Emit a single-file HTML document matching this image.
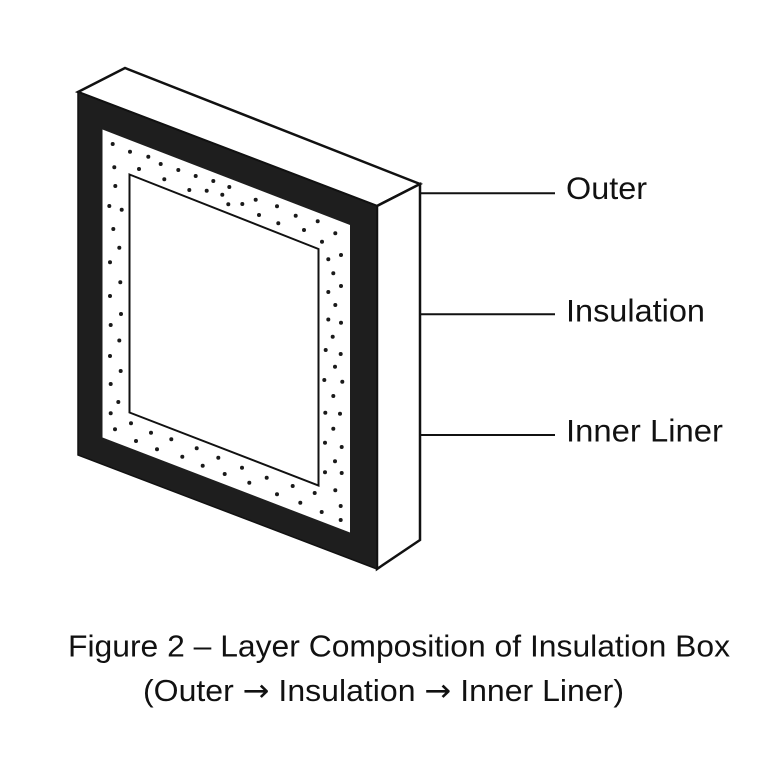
<!DOCTYPE html>
<html><head><meta charset="utf-8"><style>
html,body{margin:0;padding:0;background:#fff;}
svg{display:block;}
text{font-family:"Liberation Sans",Arial,sans-serif;fill:#111;}
</style></head><body>
<svg width="768" height="768" viewBox="0 0 768 768" xmlns="http://www.w3.org/2000/svg">
<rect width="768" height="768" fill="#fff"/>
<!-- top face -->
<polygon points="78,92 125,68 420,184 377,206" fill="#fff" stroke="#111" stroke-width="2.5" stroke-linejoin="miter"/>
<!-- side face -->
<polygon points="377,206 420,184 420,540 377,569" fill="#fff" stroke="#111" stroke-width="2.5"/>
<!-- front outer (black frame) -->
<polygon points="78,92 377,206 377,569 78,455" fill="#1e1e1e" stroke="#111" stroke-width="1.5"/>
<!-- insulation band -->
<polygon points="102.5,129.5 350,225 350,532.5 102.5,437.5" fill="#fff"/>
<!-- dots -->
<g fill="#1a1a1a">
<circle cx="112.7" cy="144" r="2"/><circle cx="130" cy="151.7" r="2"/><circle cx="148.3" cy="156.7" r="2"/>
<circle cx="160.7" cy="164" r="2"/><circle cx="178.3" cy="170" r="2"/><circle cx="195.7" cy="176" r="2"/>
<circle cx="213.3" cy="181" r="2"/><circle cx="229.3" cy="187" r="2"/><circle cx="114.3" cy="167.3" r="2"/>
<circle cx="139" cy="169" r="2"/><circle cx="164.3" cy="179.3" r="2"/><circle cx="189.3" cy="190" r="2"/>
<circle cx="206.7" cy="190.7" r="2"/><circle cx="222.3" cy="194.7" r="2"/><circle cx="228.3" cy="204.3" r="2"/>
<circle cx="242.3" cy="204" r="2"/><circle cx="255.7" cy="199.7" r="2"/><circle cx="259" cy="215" r="2"/>
<circle cx="277" cy="206.3" r="2"/><circle cx="278.3" cy="223.3" r="2"/><circle cx="295.7" cy="215.7" r="2"/>
<circle cx="304" cy="230" r="2"/><circle cx="317.7" cy="221.3" r="2"/><circle cx="335.3" cy="233.3" r="2"/>
<circle cx="322" cy="241.7" r="2"/><circle cx="341" cy="255" r="2"/><circle cx="328.3" cy="259.3" r="2"/>
<circle cx="333.3" cy="273.3" r="2"/><circle cx="341" cy="286" r="2"/><circle cx="328.3" cy="292" r="2"/>
<circle cx="335.3" cy="305" r="2"/><circle cx="328.3" cy="319.5" r="2"/><circle cx="341" cy="322.7" r="2"/>
<circle cx="332.7" cy="336.8" r="2"/>
<circle cx="115.3" cy="186" r="2"/><circle cx="109.3" cy="206" r="2"/><circle cx="121.7" cy="209.7" r="2"/>
<circle cx="113.3" cy="229" r="2"/><circle cx="119.3" cy="247.7" r="2"/><circle cx="110" cy="262.3" r="2"/>
<circle cx="120.3" cy="282.3" r="2"/><circle cx="110" cy="296" r="2"/><circle cx="121" cy="314" r="2"/>
<circle cx="110.7" cy="325" r="2"/><circle cx="119.3" cy="340.5" r="2"/>
<circle cx="110" cy="356" r="2"/><circle cx="120.7" cy="371" r="2"/><circle cx="110.7" cy="384" r="2"/>
<circle cx="118.3" cy="402" r="2"/><circle cx="110.7" cy="413.3" r="2"/><circle cx="115" cy="429.3" r="2"/>
<circle cx="131" cy="423.3" r="2"/>
<circle cx="136" cy="441" r="2"/><circle cx="151" cy="432.7" r="2"/><circle cx="157" cy="449.3" r="2"/>
<circle cx="171.3" cy="439.3" r="2"/><circle cx="182.3" cy="456.7" r="2"/><circle cx="196.7" cy="448.3" r="2"/>
<circle cx="202.7" cy="465.7" r="2"/><circle cx="218.3" cy="457.7" r="2"/><circle cx="224.7" cy="474" r="2"/>
<circle cx="242" cy="467.7" r="2"/><circle cx="249.3" cy="482.7" r="2"/><circle cx="266.7" cy="477.7" r="2"/>
<circle cx="277" cy="494.3" r="2"/><circle cx="292.7" cy="486" r="2"/><circle cx="300.3" cy="502.7" r="2"/>
<circle cx="314.7" cy="493" r="2"/><circle cx="321.7" cy="512" r="2"/><circle cx="335.3" cy="490.3" r="2"/>
<circle cx="340.7" cy="506" r="2"/><circle cx="340.7" cy="520" r="2"/>
<circle cx="325.7" cy="350" r="2"/><circle cx="340.7" cy="354" r="2"/><circle cx="335" cy="366.7" r="2"/>
<circle cx="324.3" cy="380" r="2"/><circle cx="342.3" cy="381.7" r="2"/><circle cx="333.3" cy="396" r="2"/>
<circle cx="325.3" cy="412.7" r="2"/><circle cx="340" cy="413.7" r="2"/><circle cx="333.3" cy="428.7" r="2"/>
<circle cx="325" cy="442.7" r="2"/><circle cx="341.7" cy="447" r="2"/><circle cx="335" cy="461.3" r="2"/>
<circle cx="325" cy="472.3" r="2"/><circle cx="341.7" cy="473" r="2"/>
</g>
<!-- inner liner -->
<polygon points="129.5,174.5 318.5,249 318.5,485.5 129.5,412.5" fill="#fff" stroke="#111" stroke-width="2"/>
<!-- leader lines -->
<g stroke="#111" stroke-width="2">
<line x1="420" y1="193.3" x2="555" y2="193.3"/>
<line x1="420" y1="314.3" x2="555" y2="314.3"/>
<line x1="420" y1="435" x2="555" y2="435"/>
</g>
<text x="566" y="199" font-size="31.5" textLength="81" lengthAdjust="spacingAndGlyphs">Outer</text>
<text x="566" y="321.5" font-size="31.5" textLength="139" lengthAdjust="spacingAndGlyphs">Insulation</text>
<text x="566" y="441.5" font-size="31.5" textLength="157" lengthAdjust="spacingAndGlyphs">Inner Liner</text>
<text x="68" y="656.5" font-size="31" textLength="662" lengthAdjust="spacingAndGlyphs">Figure 2 – Layer Composition of Insulation Box</text>
<text x="143" y="701" font-size="31" textLength="481" lengthAdjust="spacingAndGlyphs">(Outer <tspan font-family="DejaVu Sans">→</tspan> Insulation <tspan font-family="DejaVu Sans">→</tspan> Inner Liner)</text>
</svg>
</body></html>
